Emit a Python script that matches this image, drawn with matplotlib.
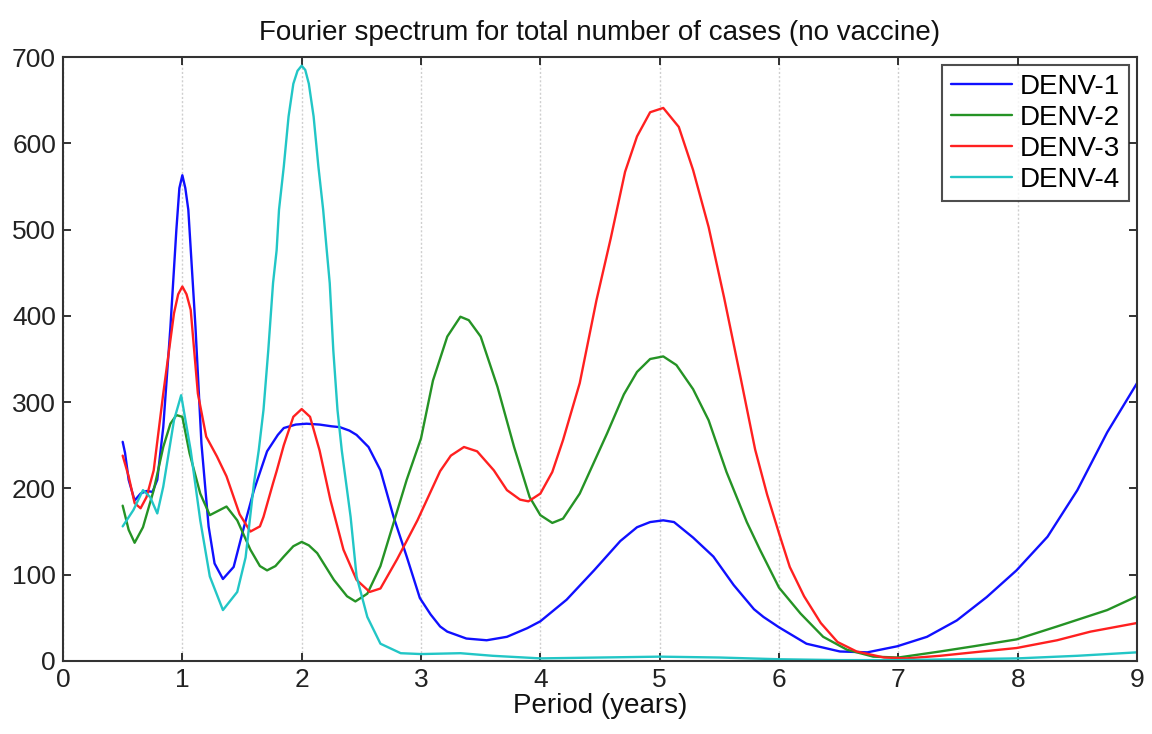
import matplotlib
matplotlib.use("Agg")
import matplotlib.pyplot as plt

plt.rcParams['font.family'] = ['Liberation Sans', 'DejaVu Sans']

# Fourier amplitude by period (years) for each serotype
period_d1 = [0.50, 0.52, 0.55, 0.60, 0.65, 0.70, 0.75, 0.79, 0.84, 0.90, 0.95, 0.975,
             1.00, 1.025, 1.05, 1.11, 1.16, 1.22, 1.27, 1.34, 1.43, 1.51, 1.60, 1.71,
             1.80, 1.85, 1.95, 2.04, 2.15, 2.25, 2.32, 2.40, 2.46, 2.56, 2.66, 2.77,
             2.88, 2.99, 3.08, 3.16, 3.22, 3.38, 3.55, 3.72, 3.89, 4.00, 4.22, 4.45,
             4.67, 4.81, 4.92, 5.03, 5.12, 5.28, 5.45, 5.62, 5.79, 5.87, 6.00, 6.23,
             6.51, 6.74, 6.99, 7.24, 7.49, 7.74, 7.99, 8.25, 8.50, 8.75, 9.00]
cases_d1 = [254, 241, 210, 186, 194, 197, 196, 210, 271, 387, 500, 548,
            563, 548, 523, 387, 252, 156, 113, 95, 109, 152, 198, 243,
            262, 270, 274, 275, 274, 272, 271, 267, 262, 248, 221, 167,
            121, 73, 54, 40, 34, 26, 24, 28, 38, 46, 71, 105,
            139, 155, 161, 163, 161, 143, 121, 88, 60, 51, 39, 20,
            11, 10, 17, 28, 47, 74, 105, 144, 198, 265, 322]

period_d2 = [0.50, 0.55, 0.60, 0.67, 0.76, 0.84, 0.90, 0.95, 1.00, 1.06, 1.15, 1.23,
             1.30, 1.37, 1.46, 1.57, 1.65, 1.71, 1.78, 1.85, 1.93, 2.00, 2.06, 2.13,
             2.27, 2.38, 2.45, 2.55, 2.66, 2.77, 2.88, 3.00, 3.10, 3.22, 3.33, 3.40,
             3.50, 3.64, 3.78, 3.91, 4.00, 4.10, 4.19, 4.33, 4.56, 4.70, 4.81, 4.92,
             5.03, 5.14, 5.28, 5.41, 5.56, 5.73, 5.84, 6.00, 6.18, 6.37, 6.57, 6.79,
             7.00, 7.35, 7.63, 7.99, 8.33, 8.75, 9.00]
cases_d2 = [180, 152, 137, 155, 198, 248, 275, 285, 283, 241, 194, 169,
            174, 179, 163, 129, 110, 105, 110, 121, 133, 138, 134, 125,
            94, 75, 69, 78, 110, 160, 210, 258, 325, 376, 399, 395,
            376, 318, 248, 190, 169, 160, 165, 194, 264, 309, 335, 350,
            353, 343, 315, 279, 219, 161, 129, 85, 55, 28, 13, 5,
            4, 11, 17, 25, 40, 59, 75]

period_d3 = [0.50, 0.55, 0.60, 0.65, 0.70, 0.76, 0.84, 0.93, 0.965, 1.00, 1.035, 1.07,
             1.13, 1.20, 1.29, 1.37, 1.48, 1.57, 1.65, 1.68, 1.76, 1.79, 1.85, 1.93,
             2.00, 2.07, 2.15, 2.24, 2.35, 2.46, 2.57, 2.66, 2.80, 2.97, 3.16, 3.25,
             3.36, 3.47, 3.61, 3.72, 3.83, 3.90, 4.00, 4.10, 4.19, 4.33, 4.47, 4.59,
             4.71, 4.81, 4.92, 5.03, 5.16, 5.28, 5.41, 5.54, 5.68, 5.80, 5.90, 6.00,
             6.09, 6.21, 6.35, 6.49, 6.65, 6.88, 7.07, 7.35, 7.63, 7.99, 8.33, 8.61,
             9.00]
cases_d3 = [238, 214, 183, 177, 190, 221, 310, 403, 425, 434, 425, 407,
            310, 260, 237, 214, 170, 150, 156, 167, 206, 220, 250, 283,
            292, 283, 244, 187, 129, 94, 80, 84, 118, 163, 220, 238,
            248, 243, 221, 198, 187, 185, 194, 219, 256, 322, 418, 490,
            567, 608, 636, 641, 619, 569, 503, 421, 327, 245, 193, 148,
            109, 75, 44, 22, 11, 4, 3, 6, 10, 15, 24, 34,
            44]

period_d4 = [0.50, 0.59, 0.67, 0.73, 0.79, 0.84, 0.93, 0.99, 1.07, 1.15, 1.23, 1.34,
             1.46, 1.53, 1.60, 1.64, 1.68, 1.72, 1.76, 1.79, 1.81, 1.85, 1.89, 1.93,
             1.965, 2.00, 2.03, 2.06, 2.10, 2.14, 2.18, 2.21, 2.235, 2.265, 2.30, 2.336,
             2.41, 2.46, 2.55, 2.66, 2.83, 3.00, 3.33, 3.60, 4.00, 4.50, 5.00, 5.50,
             6.00, 6.50, 7.00, 7.50, 8.00, 8.50, 9.00]
cases_d4 = [156, 175, 198, 190, 171, 202, 279, 308, 244, 163, 98, 59,
            80, 120, 206, 244, 291, 360, 438, 476, 523, 573, 631, 669,
            684, 690, 685, 669, 631, 573, 523, 476, 438, 360, 291, 244,
            167, 98, 51, 20, 9, 8, 9, 6, 3, 4, 5, 4,
            2, 1, 1, 2, 3, 6, 10]

series_names = ['DENV-1', 'DENV-2', 'DENV-3', 'DENV-4']
series_colors = ['#1010ff', '#259325', '#ff2020', '#22c6c6']

x_ticks = list(range(0, 10))
y_ticks = list(range(0, 701, 100))

fig = plt.figure(figsize=(11.52, 7.34), dpi=100)
ax = fig.add_axes([0.0547, 0.0995, 0.9323, 0.8228])

for xs, ys, name, col in zip([period_d1, period_d2, period_d3, period_d4],
                             [cases_d1, cases_d2, cases_d3, cases_d4],
                             series_names, series_colors):
    ax.plot(xs, ys, color=col, lw=1.7, label=name,
            solid_joinstyle='round', solid_capstyle='round')

ax.set_xlim(0, 9)
ax.set_ylim(0, 700)
ax.set_xticks(x_ticks)
ax.set_yticks(y_ticks)
ax.xaxis.grid(True, color='#cfcfcf', linestyle=(0, (1.5, 1.5)), lw=1.0)
ax.set_axisbelow(True)

ax.tick_params(direction='in', length=6, width=1.3, top=True, right=True,
               labelsize=19, colors='#222222', pad=5)
for side in ax.spines.values():
    side.set_linewidth(1.5)
    side.set_color('#333333')

ax.set_title('Fourier spectrum for total number of cases (no vaccine)',
             fontsize=20, pad=12, color='#111111')
ax.set_xlabel('Period (years)', fontsize=20, labelpad=1, color='#111111')

leg = ax.legend(loc='upper right', fontsize=20, frameon=True, fancybox=False,
                borderpad=0.3, handlelength=2.2, handletextpad=0.3,
                labelspacing=0.18, borderaxespad=0.3)
leg.get_frame().set_edgecolor('#222222')
leg.get_frame().set_linewidth(1.5)

fig.savefig('out.png', dpi=100)
